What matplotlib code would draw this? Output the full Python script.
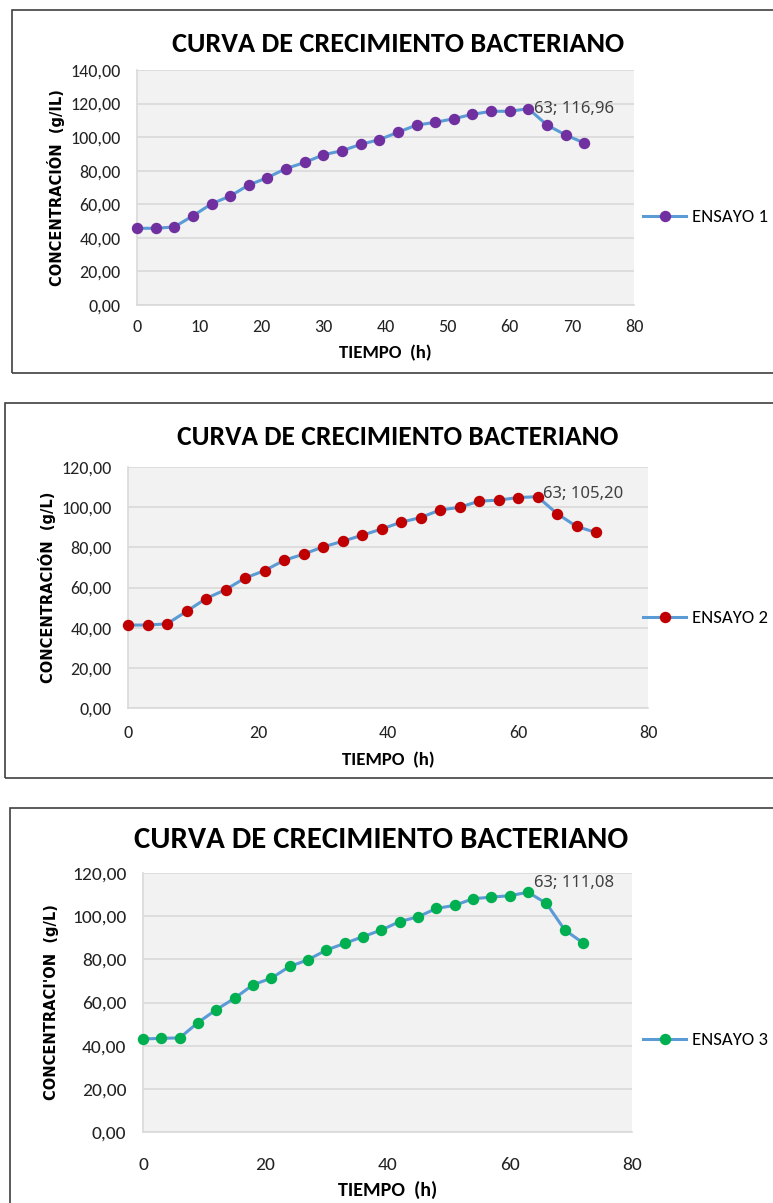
import numpy as np
import matplotlib.pyplot as plt
from matplotlib.patches import Rectangle
from matplotlib.ticker import FuncFormatter

tiempo = [0, 3, 6, 9, 12, 15, 18, 21, 24, 27, 30, 33, 36, 39, 42, 45, 48, 51, 54, 57, 60, 63, 66, 69, 72]
ensayo1 = [45.7, 45.7, 46.5, 53.1, 60.3, 64.9, 71.5, 75.9, 81.3, 84.9, 89.5, 91.9, 95.7, 98.5,
           102.9, 107.2, 108.8, 111.0, 113.6, 115.4, 115.4, 116.96, 107.2, 101.3, 96.5]
ensayo2 = [41.3, 41.3, 41.9, 48.1, 54.5, 58.9, 64.7, 68.4, 73.5, 76.6, 80.2, 83.0, 86.0, 89.1,
           92.5, 94.8, 98.6, 99.9, 103.0, 103.5, 104.8, 105.20, 96.8, 90.4, 87.4]
ensayo3 = [43.1, 43.4, 43.6, 50.7, 56.7, 62.0, 68.2, 71.3, 76.7, 79.8, 84.3, 87.4, 90.5, 93.6,
           97.5, 99.7, 103.6, 105.0, 108.1, 108.8, 109.5, 111.08, 105.9, 93.6, 87.6]

W, H = 773, 1203
fig = plt.figure(figsize=(W / 100, H / 100), dpi=100)

CAL = ['Carlito', 'DejaVu Sans']


def px(x0, y0, x1, y1):
    return [x0 / W, 1 - y1 / H, (x1 - x0) / W, (y1 - y0) / H]


def panel(box, plot_box, y, color, label, ylabel, ymax, xstep, title_xy, xlab_y, leg_y,
          title_fs, tick_fs, xpad, ylpad, ann_dy, xlab_fs):
    # black frame round the chart
    bx0, by0, bx1, by1 = box
    fig.patches.append(Rectangle((bx0 / W, 1 - by1 / H), (bx1 - bx0) / W, (by1 - by0) / H,
                                 transform=fig.transFigure, fill=False, ec='#404040', lw=1.2))
    ax = fig.add_axes(px(*plot_box))
    ax.set_facecolor('#F2F2F2')
    ax.plot(tiempo, y, color='#5B9BD5', lw=2.2, marker='o', ms=7.2,
            mfc=color, mec=color, label=label, zorder=3, clip_on=False)
    ax.set_xlim(0, 80)
    ax.set_ylim(0, ymax)
    ax.set_xticks(np.arange(0, 81, xstep))
    ax.set_yticks(np.arange(0, ymax + 1, 20))
    ax.yaxis.set_major_formatter(FuncFormatter(lambda v, p: f'{v:.2f}'.replace('.', ',')))
    ax.grid(axis='y', color='#D9D9D9', lw=1.2)
    ax.set_axisbelow(True)
    for s in ['top', 'right']:
        ax.spines[s].set_visible(False)
    for s in ['left', 'bottom']:
        ax.spines[s].set_color('#D9D9D9')
        ax.spines[s].set_linewidth(1.2)
    ax.tick_params(length=0, labelsize=tick_fs, colors='#222222')
    ax.tick_params(axis='y', pad=12)
    ax.tick_params(axis='x', pad=xpad)
    for t in ax.get_xticklabels() + ax.get_yticklabels():
        t.set_family(CAL)
    ax.set_ylabel(ylabel, fontsize=10.5, fontweight='bold', family='DejaVu Sans', labelpad=ylpad)
    # peak label
    i = int(np.argmax(y))
    ax.annotate(f'{tiempo[i]}; {y[i]:.2f}'.replace('.', ','), (tiempo[i], y[i]),
                xytext=(4, ann_dy), textcoords='offset points', fontsize=12,
                family='Noto Sans', color='#404040', va='center', ha='left')
    fig.text(title_xy[0] / W, 1 - title_xy[1] / H,
             'CURVA DE CRECIMIENTO BACTERIANO', ha='center', va='center',
             fontsize=title_fs, fontweight='bold', family=CAL)
    fig.text((plot_box[0] + plot_box[2]) / 2 / W, 1 - xlab_y / H, 'TIEMPO  (h)',
             ha='center', va='center', fontsize=xlab_fs, fontweight='bold', family=CAL)
    ax.legend(loc='center left', bbox_to_anchor=(643 / W, 1 - leg_y / H),
              bbox_transform=fig.transFigure, frameon=False, handlelength=2.3,
              handletextpad=0.3, borderaxespad=0, borderpad=0,
              prop={'family': CAL, 'size': 13.5})
    return ax


panel((12, 10, 790, 373), (137, 70, 634, 305), ensayo1, '#7030A0', 'ENSAYO 1',
      'CONCENTRACIÓN  (g/IL)', 140, 10, (398, 44), 353, 217, 20.3, 13, 10, 4, 0, 13.5)
panel((5, 403, 790, 778), (128, 467, 648, 708), ensayo2, '#C00000', 'ENSAYO 2',
      'CONCENTRACIÓN  (g/L)', 120, 20, (398, 437), 760, 618, 19.8, 13, 12, 4, 2, 13.5)
panel((10, 808, 790, 1220), (143, 873, 632, 1132), ensayo3, '#00B050', 'ENSAYO 3',
      "CONCENTRACI'ON  (g/L)", 120, 20, (381, 840), 1190, 1040, 22.2, 14, 18, 9, 7, 14.5)

fig.savefig('out.png', dpi=100)
